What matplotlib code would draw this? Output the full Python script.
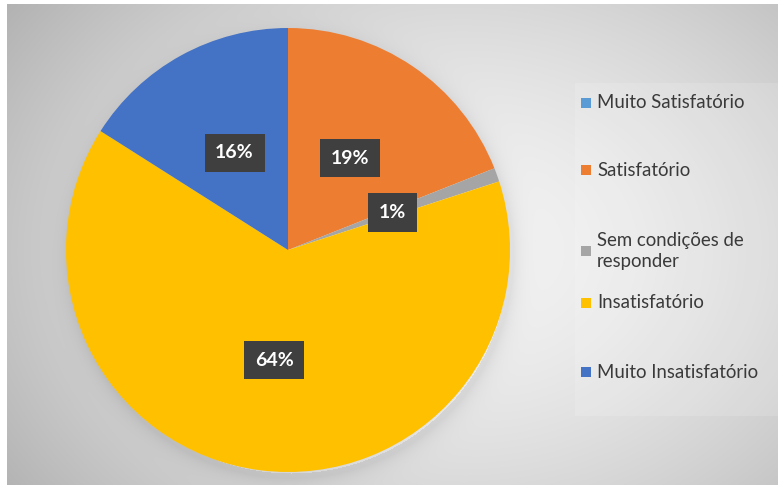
import numpy as np
import matplotlib
matplotlib.use("Agg")
import matplotlib.pyplot as plt
from matplotlib.patches import Rectangle

plt.rcParams['font.family'] = ['Lato', 'DejaVu Sans']

# Survey answers (share of respondents, %)
categories = ["Muito Satisfatório", "Satisfatório", "Sem condições de\nresponder",
              "Insatisfatório", "Muito Insatisfatório"]
values = [0, 19, 1, 64, 16]
colors = ["#5B9BD5", "#ED7D31", "#A5A5A5", "#FFC000", "#4472C4"]

W, H = 782, 488
fig = plt.figure(figsize=(W / 100, H / 100), dpi=100)

# ---- chart-area background: soft radial grey gradient with a pie shadow ----
bg = fig.add_axes([0, 0, 1, 1])
bg.set_axis_off()
yy, xx = np.mgrid[0:H, 0:W].astype(float)
cx, cy = 460.0, 250.0
r = np.sqrt(((xx - cx) / 430.0) ** 2 + ((yy - cy) / 330.0) ** 2)
shade = 0.955 - 0.17 * np.clip(r, 0, 1.4) ** 1.6
# soft shadow just outside the pie edge
pcx, pcy, prad = 288.0, 252.0, 222.0
d = np.sqrt((xx - pcx - 3) ** 2 + (yy - pcy - 4) ** 2) - prad
shade -= 0.07 * np.exp(-np.clip(d, 0, None) / 9.0) * (d > -5)
img = np.ones((H, W, 3))
inside = (xx >= 7) & (xx <= 777) & (yy >= 4) & (yy <= 484)
for c in range(3):
    img[..., c] = np.where(inside, shade, 1.0)
bg.imshow(img, extent=[0, W, H, 0], interpolation="bilinear", aspect="auto")
bg.set_xlim(0, W)
bg.set_ylim(H, 0)

# legend panel (translucent white)
bg.add_patch(Rectangle((575, 83), 205, 333, facecolor="white", alpha=0.14,
                       edgecolor="none"))

# ---- pie ----
rad = 222
ax = fig.add_axes([(288 - rad) / W, (H - 250 - rad) / H, 2 * rad / W, 2 * rad / H])
ax.set_axis_off()


def pct(p):
    return f"{p:.0f}%" if p > 0.4 else ""


wedges, texts, autotexts = ax.pie(
    values, colors=colors, startangle=90, counterclock=False,
    autopct=pct, pctdistance=0.5, radius=1,
    wedgeprops=dict(linewidth=0),
    textprops=dict(color="white", fontsize=14, fontweight="bold"))
for t in autotexts:
    t.set_bbox(dict(boxstyle="square,pad=0.55", facecolor="#3f3f3f",
                    edgecolor="none"))
ax.set_xlim(-1, 1)
ax.set_ylim(-1, 1)

# ---- legend ----
legend_y = [103, 170, 251, 303, 372]
for lab, col, y in zip(categories, colors, legend_y):
    bg.add_patch(Rectangle((581, y - 5), 10, 10, facecolor=col, edgecolor="none"))
    bg.text(597, y, lab, fontsize=13.4, color="#3a3a3a", va="center", ha="left",
            linespacing=1.25)

fig.savefig("out.png", dpi=100)
